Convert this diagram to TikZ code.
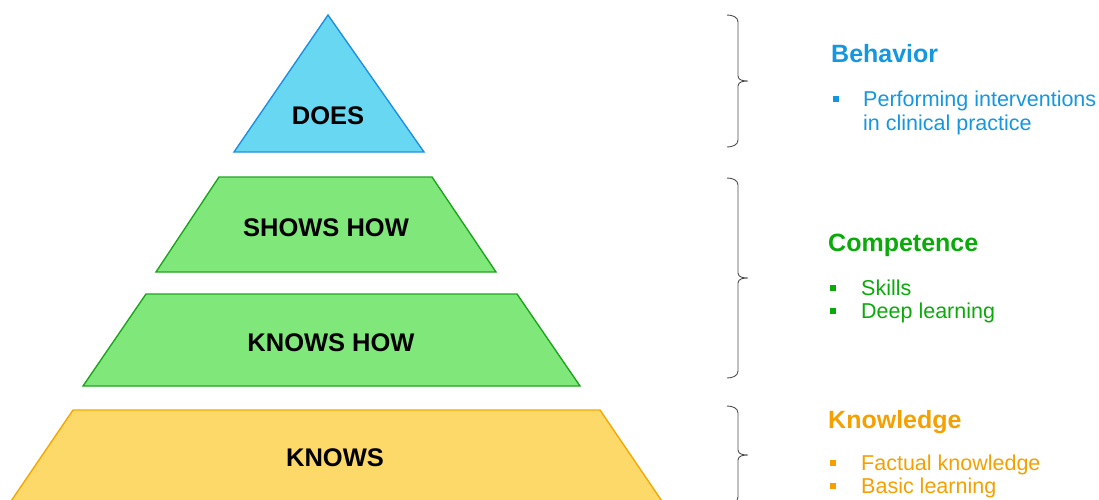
\documentclass[tikz,border=0pt]{standalone}
\usepackage{fontspec}
\setmainfont{Liberation Sans}
\usepackage{tikz}

\definecolor{doesfill}{RGB}{104,216,242}
\definecolor{doesline}{RGB}{30,144,224}
\definecolor{howfill}{RGB}{128,232,122}
\definecolor{howline}{RGB}{30,165,30}
\definecolor{knowfill}{RGB}{253,217,106}
\definecolor{knowline}{RGB}{245,168,0}
\definecolor{behtext}{RGB}{20,150,225}
\definecolor{comptext}{RGB}{10,170,10}
\definecolor{knowtext}{RGB}{245,160,0}

\tikzset{
  level/.style={line width=1.4pt,line join=miter},
  tiertext/.style={font=\fontsize{25.5}{30}\selectfont\bfseries,inner sep=0pt},
  heading/.style={anchor=base west,font=\fontsize{25}{30}\selectfont\bfseries,inner sep=0pt},
  item/.style={anchor=base west,font=\fontsize{21.5}{24}\selectfont,inner sep=0pt},
  sqbullet/.style={minimum size=6pt,inner sep=0pt,fill},
  bracket/.style={draw=black!70,line width=0.9pt}
}

\begin{document}
\begin{tikzpicture}[x=1pt,y=-1pt]
\useasboundingbox (0,0) rectangle (1099,499);
\clip (0,0) rectangle (1099,499);

% pyramid
\filldraw[level,fill=doesfill,draw=doesline] (328,15) -- (424,152) -- (234,152) -- cycle;
\filldraw[level,fill=howfill,draw=howline] (219,177) -- (432,177) -- (496,272) -- (156,272) -- cycle;
\filldraw[level,fill=howfill,draw=howline] (146,294) -- (517,294) -- (580,386) -- (83,386) -- cycle;
\filldraw[level,fill=knowfill,draw=knowline] (73,410) -- (600,410) -- (668,510) -- (5,510) -- cycle;

\node[tiertext] (does) at (328,116) {DOES};
\node[tiertext] (showshow) at (326,228) {SHOWS HOW};
\node[tiertext] (knowshow) at (331,343) {KNOWS HOW};
\node[tiertext] (knows) at (335,458) {KNOWS};

% braces
\foreach \top/\mid/\bot in {15/81/147, 178/278/378, 406/455/504}{
  \draw[bracket] (727,\top) to[out=0,in=90] (738,\top+7) -- (738,\mid-5)
    to[out=-90,in=180] (748,\mid) to[out=180,in=90] (738,\mid+5)
    -- (738,\bot-7) to[out=-90,in=0] (727,\bot);
}

% behavior
\node[heading,text=behtext] (behavior) at (831,62) {Behavior};
\node[sqbullet,fill=behtext] (b1) at (836,99) {};
\node[item,text=behtext] (perform) at (863,106) {Performing interventions};
\node[item,text=behtext] (clinical) at (863,130) {in clinical practice};

% competence
\node[heading,text=comptext] (competence) at (828,251) {Competence};
\node[sqbullet,fill=comptext] (c1) at (833,288) {};
\node[item,text=comptext] (skills) at (861,295) {Skills};
\node[sqbullet,fill=comptext] (c2) at (833,311) {};
\node[item,text=comptext] (deep) at (861,318) {Deep learning};

% knowledge
\node[heading,text=knowtext] (knowledge) at (828,428) {Knowledge};
\node[sqbullet,fill=knowtext] (k1) at (833,463) {};
\node[item,text=knowtext] (factual) at (861,470) {Factual knowledge};
\node[sqbullet,fill=knowtext] (k2) at (833,486) {};
\node[item,text=knowtext] (basic) at (861,493) {Basic learning};
\end{tikzpicture}
\end{document}
